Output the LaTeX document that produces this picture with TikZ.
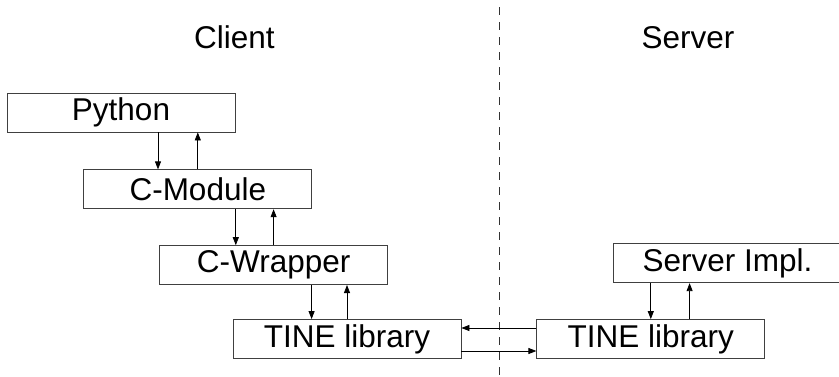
\documentclass[tikz,border=0pt]{standalone}
\usepackage{fontspec}
\setmainfont{Liberation Sans}
\usetikzlibrary{arrows.meta, positioning}
\tikzstyle{layers}=[x=1pt, y=-1pt, >={Triangle[length=8pt,width=6pt]}, line width=0.8pt]
\tikzstyle{layer}=[draw=black!75, minimum width=228pt, minimum height=39pt, inner sep=0pt, font=\fontsize{31.5}{36}\selectfont]
\tikzstyle{side}=[anchor=base, font=\fontsize{31.5}{36}\selectfont]

\begin{document}
\begin{tikzpicture}[layers]
  \useasboundingbox (0,0) rectangle (839,376);
  \node[side] (client) at (234.5,48) {Client};
  \node[side] (server) at (688,48) {Server};
  \coordinate (top) at (499,7);
  \coordinate (bottom) at (499,376);
  \draw[dash pattern=on 8pt off 7pt, line width=0.7pt, black!80] (top) -- (bottom);
  \node[layer] (python) at (121,112.5) {Python};
  \node[layer] (cmodule) [below right=37pt and -152pt of python] {C-Module};
  \node[layer] (cwrapper) [below right=36pt and -153pt of cmodule] {C-Wrapper};
  \node[layer] (tinec) at (347,339) {TINE library};
  \node[layer] (tines) [right=75pt of tinec] {TINE library};
  \node[layer] (simpl) [above right=36pt and -152pt of tines] {Server Impl.};
  \draw[->] ([xshift=37pt]python.south) -- ([xshift=37pt]python.south |- cmodule.north);
  \draw[->] (cmodule.north) -- (cmodule.north |- python.south);
  \draw[->] ([xshift=38pt]cmodule.south) -- ([xshift=38pt]cmodule.south |- cwrapper.north);
  \draw[->] (cwrapper.north) -- (cwrapper.north |- cmodule.south);
  \draw[->] ([xshift=38pt]cwrapper.south) -- ([xshift=38pt]cwrapper.south |- tinec.north);
  \draw[->] (tinec.north) -- (tinec.north |- cwrapper.south);
  \draw[->] (simpl.south -| tines.north) -- (tines.north);
  \draw[->] ([xshift=-38pt]simpl.south |- tines.north) -- ([xshift=-38pt]simpl.south);
  \draw[->] ([yshift=11pt]tines.west) -- ([yshift=11pt]tines.west -| tinec.east);
  \draw[->] ([yshift=-12pt]tinec.east) -- ([yshift=-12pt]tinec.east -| tines.west);
\end{tikzpicture}
\end{document}
